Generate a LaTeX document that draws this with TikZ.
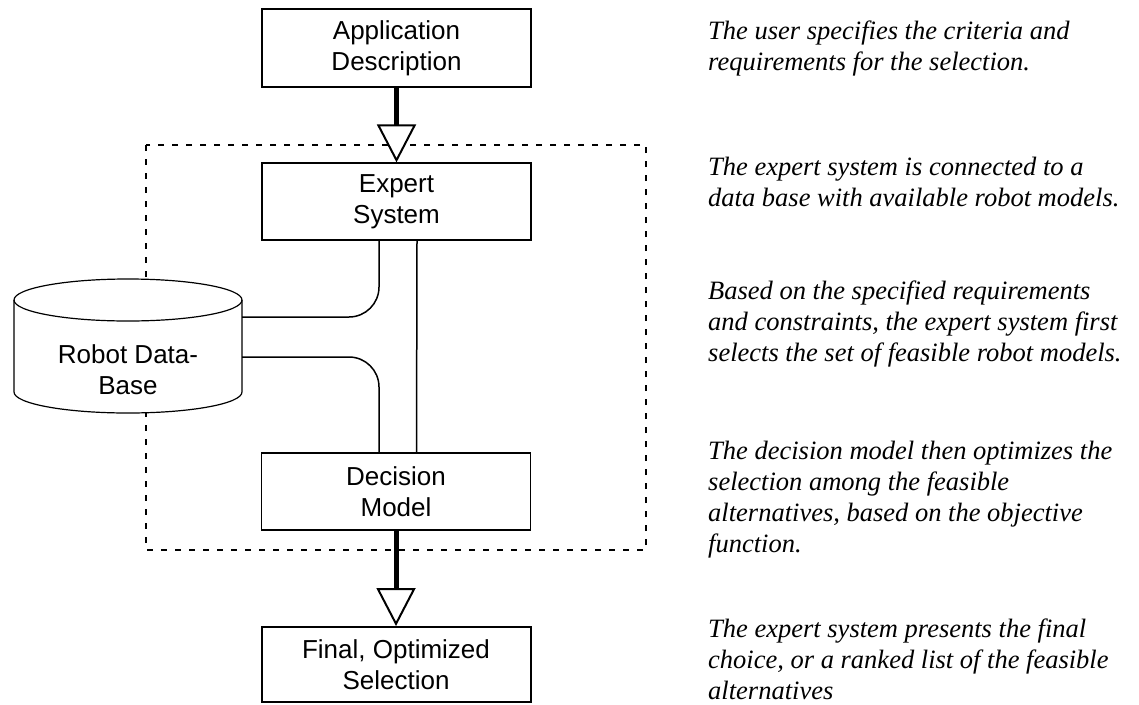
\documentclass[tikz,border=0pt]{standalone}
\usepackage{fontspec}
\setmainfont{Liberation Serif}
\newfontfamily\boxfont{Liberation Sans}
\usepackage{tikz}
\usetikzlibrary{arrows.meta}
\tikzset{
    block/.style={shape=rectangle, draw=black, line width=1.2pt, fill=white, inner sep=0pt,
        minimum width=269pt, minimum height=77pt, align=center, font=\boxfont\fontsize{26}{31}\selectfont},
    note/.style={anchor=north west, inner sep=0pt, align=left, font=\itshape\fontsize{26.5}{31}\selectfont},
    flow/.style={line width=5pt, -{Triangle[length=38pt, width=39pt, fill=white, line width=2pt]}},
    link/.style={line width=1.5pt, rounded corners=30pt},
    dashframe/.style={line width=2pt, dash pattern=on 6pt off 8pt}}

\begin{document}
\begin{tikzpicture}[x=1pt, y=1pt]

            \useasboundingbox (0,0) rectangle (1139,-704);

            \draw[dashframe] (146,-145) rectangle (646,-550);

            \draw[line width=1.2pt, fill=white] (14,-300) -- (14,-392) arc[start angle=180, end angle=360, x radius=114pt, y radius=21pt] -- (242,-300) arc[start angle=0, end angle=180, x radius=114pt, y radius=21pt] -- cycle;
            \draw[line width=1.2pt] (14,-300) arc[start angle=180, end angle=360, x radius=114pt, y radius=21pt];

            \node[block, minimum height=78pt] (App) at (396.5,-48) {Application\\Description};
            \node[block] (Exp) at (396.5,-201.5) {Expert\\System};
            \node[block] (Dec) at (396,-491.5) {Decision\\Model};
            \node[block, line width=2pt, minimum height=75pt] (Fin) at (396,-664.5) {Final, Optimized\\Selection};
            \node[inner sep=0pt, minimum width=228pt, align=center, font=\boxfont\fontsize{26}{31}\selectfont] (DB) at (128,-370) {Robot Data-\\Base};

            \draw[flow] (App) -- (Exp);
            \draw[flow] (Dec) -- (Fin);
            \draw[line width=1.5pt] ([xshift=20.5pt]Exp.south) -- ([xshift=20.5pt]Dec.north);
            \draw[link] ([xshift=-17.5pt]Exp.south) |- ([yshift=53pt]DB.east);
            \draw[link] ([yshift=13pt]DB.east) -| ([xshift=-17pt]Dec.north);

            \node[note] (N1) at (708,-21) {The user specifies the criteria and\\requirements for the selection.};
            \node[note] (N2) at (708,-157) {The expert system is connected to a\\data base with available robot models.};
            \node[note] (N3) at (708,-281) {Based on the specified requirements\\and constraints, the expert system first\\selects the set of feasible robot models.};
            \node[note] (N4) at (708,-441) {The decision model then optimizes the\\selection among the feasible\\alternatives, based on the objective\\function.};
            \node[note] (N5) at (708,-619) {The expert system presents the final\\choice, or a ranked list of the feasible\\alternatives};

        \end{tikzpicture}
\end{document}
